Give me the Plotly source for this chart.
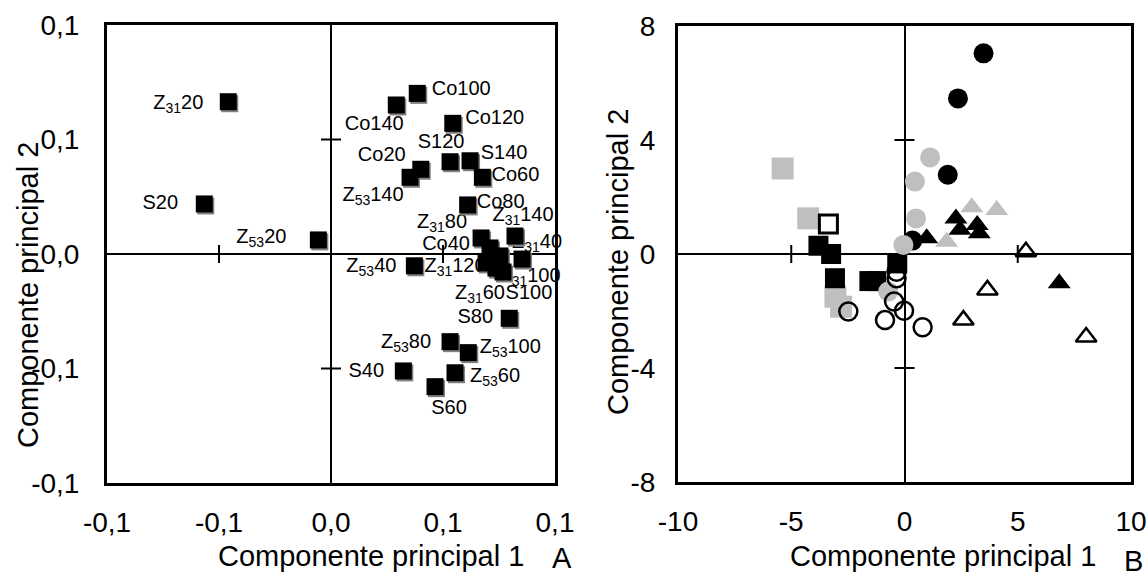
import plotly.graph_objects as go

# ---------------- Panel A data (Componente principal 1 / 2) ----------------
a_labels = ["Z<sub>31</sub>20", "S20", "Z<sub>53</sub>20", "Co100", "Co140", "Co120",
            "S120", "S140", "Co60", "Co20", "Z<sub>53</sub>140", "Co80",
            "Z<sub>31</sub>80", "Z<sub>31</sub>140", "Co40", "S100", "Z<sub>31</sub>40",
            "Z<sub>31</sub>120", "Z<sub>31</sub>60", "Z<sub>31</sub>100", "Z<sub>53</sub>40",
            "S80", "Z<sub>53</sub>80", "Z<sub>53</sub>100", "S40", "Z<sub>53</sub>60", "S60"]
a_pc1 = [-0.0642, -0.0792, -0.0079, 0.0539, 0.0408, 0.0761,
         0.0744, 0.0869, 0.0946, 0.0561, 0.0494, 0.0854,
         0.0938, 0.1150, 0.0994, 0.1056, 0.1194,
         0.0969, 0.1031, 0.1075, 0.0521,
         0.1114, 0.0744, 0.0858, 0.0452, 0.0775, 0.0650]
a_pc2 = [0.0931, 0.0306, 0.0086, 0.0982, 0.0911, 0.0799,
         0.0564, 0.0570, 0.0469, 0.0518, 0.0469, 0.0300,
         0.0098, 0.0110, 0.0037, -0.0012, -0.0031,
         -0.0055, -0.0086, -0.0110, -0.0072,
         -0.0393, -0.0536, -0.0603, -0.0715, -0.0726, -0.0811]

a_tickvals = [-0.14, -0.07, 0.0, 0.07, 0.14]
a_ticktext = ["-0,1", "-0,1", "0,0", "0,1", "0,1"]

# ---------------- Panel B data ----------------
b_black_circle_pc1 = [3.49, 2.36, 1.91, 0.35]
b_black_circle_pc2 = [7.04, 5.46, 2.78, 0.47]
b_gray_circle_pc1 = [1.13, 0.46, 0.51, -0.05, -0.72]
b_gray_circle_pc2 = [3.39, 2.54, 1.25, 0.32, -1.32]
b_open_circle_pc1 = [-2.48, -0.86, -0.46, -0.02, 0.80, -0.35, -0.35]
b_open_circle_pc2 = [-2.02, -2.32, -1.67, -1.99, -2.57, -0.62, -0.85]
b_gray_square_pc1 = [-5.38, -4.25, -3.05, -2.80]
b_gray_square_pc2 = [3.00, 1.25, -1.50, -1.85]
b_black_square_pc1 = [-3.80, -3.24, -3.07, -1.55, -1.25, -0.32]
b_black_square_pc2 = [0.29, 0.00, -0.85, -0.95, -0.95, -0.33]
b_open_square_pc1 = [-3.36]
b_open_square_pc2 = [1.05]
b_black_tri_pc1 = [0.98, 2.27, 2.45, 3.21, 3.30, 6.83]
b_black_tri_pc2 = [0.55, 1.25, 0.85, 1.02, 0.73, -1.03]
b_gray_tri_pc1 = [2.97, 4.07, 1.86]
b_gray_tri_pc2 = [1.64, 1.54, 0.43]
b_open_tri_pc1 = [5.36, 3.66, 2.60, 8.02]
b_open_tri_pc2 = [0.08, -1.26, -2.32, -2.91]

b_xtickvals = [-10, -5, 0, 5, 10]
b_xticktext = ["-10", "-5", "0", "5", "10"]
b_ytickvals = [-8, -4, 0, 4, 8]
b_yticktext = ["-8", "-4", "0", "4", "8"]

# ---------------- style ----------------
W, H = 1148, 572
FONT = "Liberation Sans, Arial, sans-serif"
GRAY = "#bfbfbf"
SHADOW = "#808080"
# label offsets (pixels, screen: dx right, dy down) for panel A labels
a_label_offsets = [(-50, 2), (-44, 0), (-57, -2), (44, -3), (-22, 20), (42, -4),
                   (-9, -19), (34, -7), (33, -1), (-39, -13), (-37, 19), (33, -2),
                   (-39, -15), (8, -20), (-44, -3), (29, 38), (15, -16),
                   (-31, 4), (-16, 26), (27, 5), (-43, 1),
                   (-34, 0), (-44, 1), (42, -5), (-37, 1), (40, 4), (14, 22)]

A_PIX = (107, 555, 25, 483)    # left, right, top, bottom of panel A plot area
B_PIX = (678, 1131, 26, 482)
A_DOM_X = [A_PIX[0] / W, A_PIX[1] / W]
A_DOM_Y = [1 - A_PIX[3] / H, 1 - A_PIX[2] / H]
B_DOM_X = [B_PIX[0] / W, B_PIX[1] / W]
B_DOM_Y = [1 - B_PIX[3] / H, 1 - B_PIX[2] / H]

fig = go.Figure()

# data units per pixel in panel A (from the axis range and plot size)
a_range = [a_tickvals[0], a_tickvals[-1]]
a_upx = (a_range[1] - a_range[0]) / (A_PIX[1] - A_PIX[0])
a_upy = (a_range[1] - a_range[0]) / (A_PIX[3] - A_PIX[2])

# labels first (so that the squares are drawn over them, as in the original)
fig.add_trace(go.Scatter(
    x=[x + dx * a_upx for x, (dx, dy) in zip(a_pc1, a_label_offsets)],
    y=[y - dy * a_upy for y, (dx, dy) in zip(a_pc2, a_label_offsets)],
    text=a_labels, mode="text", textposition="middle center", hoverinfo="skip",
    cliponaxis=False,
    textfont=dict(family=FONT, size=20, color="black"), xaxis="x", yaxis="y"))

# marker shadow + squares
fig.add_trace(go.Scatter(x=[v + 1.5 * a_upx for v in a_pc1], y=[v - 2 * a_upy for v in a_pc2],
                         mode="markers", xaxis="x", yaxis="y", hoverinfo="skip",
                         marker=dict(symbol="square", size=17, color=SHADOW, line=dict(width=0))))
fig.add_trace(go.Scatter(x=a_pc1, y=a_pc2, mode="markers", xaxis="x", yaxis="y",
                         marker=dict(symbol="square", size=17, color="black", line=dict(width=0))))

# Panel B series
def add_b(xs, ys, symbol, size, color, line_color=None, line_width=0):
    fig.add_trace(go.Scatter(x=xs, y=ys, mode="markers", xaxis="x2", yaxis="y2",
                             marker=dict(symbol=symbol, size=size, color=color,
                                         line=dict(color=line_color or color, width=line_width))))

add_b(b_gray_square_pc1, b_gray_square_pc2, "square", 22, GRAY)
add_b(b_black_square_pc1, b_black_square_pc2, "square", 20, "black")
add_b(b_open_square_pc1, b_open_square_pc2, "square", 18, "white", "black", 3)
add_b(b_black_circle_pc1, b_black_circle_pc2, "circle", 20, "black")
add_b(b_gray_circle_pc1, b_gray_circle_pc2, "circle", 20, GRAY)
add_b(b_open_circle_pc1, b_open_circle_pc2, "circle-open", 18, "black", "black", 2.5)
add_b(b_black_tri_pc1, b_black_tri_pc2, "triangle-up", 20, "black")
add_b(b_gray_tri_pc1, b_gray_tri_pc2, "triangle-up", 20, GRAY)
add_b(b_open_tri_pc1, b_open_tri_pc2, "triangle-up-open", 18, "black", "black", 2.5)

# cross tick marks on the central axes
def cross_ticks(xref, yref, xvals, yvals):
    for v in xvals:
        if v in (0, xvals[0], xvals[-1]):
            continue
        fig.add_shape(type="line", xref=xref, yref=yref, x0=v, x1=v,
                      ysizemode="pixel", yanchor=0, y0=-9, y1=9,
                      line=dict(color="black", width=2))
    for v in yvals:
        if v in (0, yvals[0], yvals[-1]):
            continue
        fig.add_shape(type="line", xref=xref, yref=yref, y0=v, y1=v,
                      xsizemode="pixel", xanchor=0, x0=-10, x1=10,
                      line=dict(color="black", width=2))

cross_ticks("x", "y", a_tickvals, a_tickvals)
cross_ticks("x2", "y2", b_xtickvals, b_ytickvals)

axis_common = dict(showline=True, mirror=True, linecolor="black", linewidth=3,
                   showgrid=False, zeroline=True, zerolinecolor="black", zerolinewidth=2,
                   ticks="", automargin=False,
                   tickfont=dict(family=FONT, size=28, color="black"))

fig.update_layout(
    width=W, height=H, margin=dict(l=0, r=0, t=0, b=0, autoexpand=False),
    paper_bgcolor="white", plot_bgcolor="white", showlegend=False,
    font=dict(family=FONT, color="black"),
    xaxis=dict(domain=A_DOM_X, range=a_range, anchor="y", tickvals=a_tickvals,
               ticktext=a_ticktext, ticklabelstandoff=12, **axis_common),
    yaxis=dict(domain=A_DOM_Y, range=a_range, anchor="x", tickvals=a_tickvals,
               ticktext=a_ticktext, ticklabelstandoff=19, **axis_common),
    xaxis2=dict(domain=B_DOM_X, range=[b_xtickvals[0], b_xtickvals[-1]], anchor="y2",
                tickvals=b_xtickvals, ticktext=b_xticktext, ticklabelstandoff=12, **axis_common),
    yaxis2=dict(domain=B_DOM_Y, range=[b_ytickvals[0], b_ytickvals[-1]], anchor="x2",
                tickvals=b_ytickvals, ticktext=b_yticktext, ticklabelstandoff=14, **axis_common),
)

title_font = dict(family=FONT, size=29, color="black")
fig.add_annotation(text="Componente principal 1", x=371 / W, y=1 - 556 / H, xref="paper", yref="paper",
                   showarrow=False, xanchor="center", yanchor="middle", font=title_font)
fig.add_annotation(text="A", x=562 / W, y=1 - 558 / H, xref="paper", yref="paper",
                   showarrow=False, xanchor="center", yanchor="middle", font=title_font)
fig.add_annotation(text="Componente principal 1", x=943 / W, y=1 - 556 / H, xref="paper", yref="paper",
                   showarrow=False, xanchor="center", yanchor="middle", font=title_font)
fig.add_annotation(text="B", x=1133 / W, y=1 - 561 / H, xref="paper", yref="paper",
                   showarrow=False, xanchor="center", yanchor="middle", font=title_font)
fig.add_annotation(text="Componente principal 2", x=28 / W, y=1 - 295 / H, xref="paper", yref="paper",
                   showarrow=False, xanchor="center", yanchor="middle", textangle=-90, font=title_font)
fig.add_annotation(text="Componente principal 2", x=618 / W, y=1 - 262 / H, xref="paper", yref="paper",
                   showarrow=False, xanchor="center", yanchor="middle", textangle=-90, font=title_font)

fig.write_html("out.html")
